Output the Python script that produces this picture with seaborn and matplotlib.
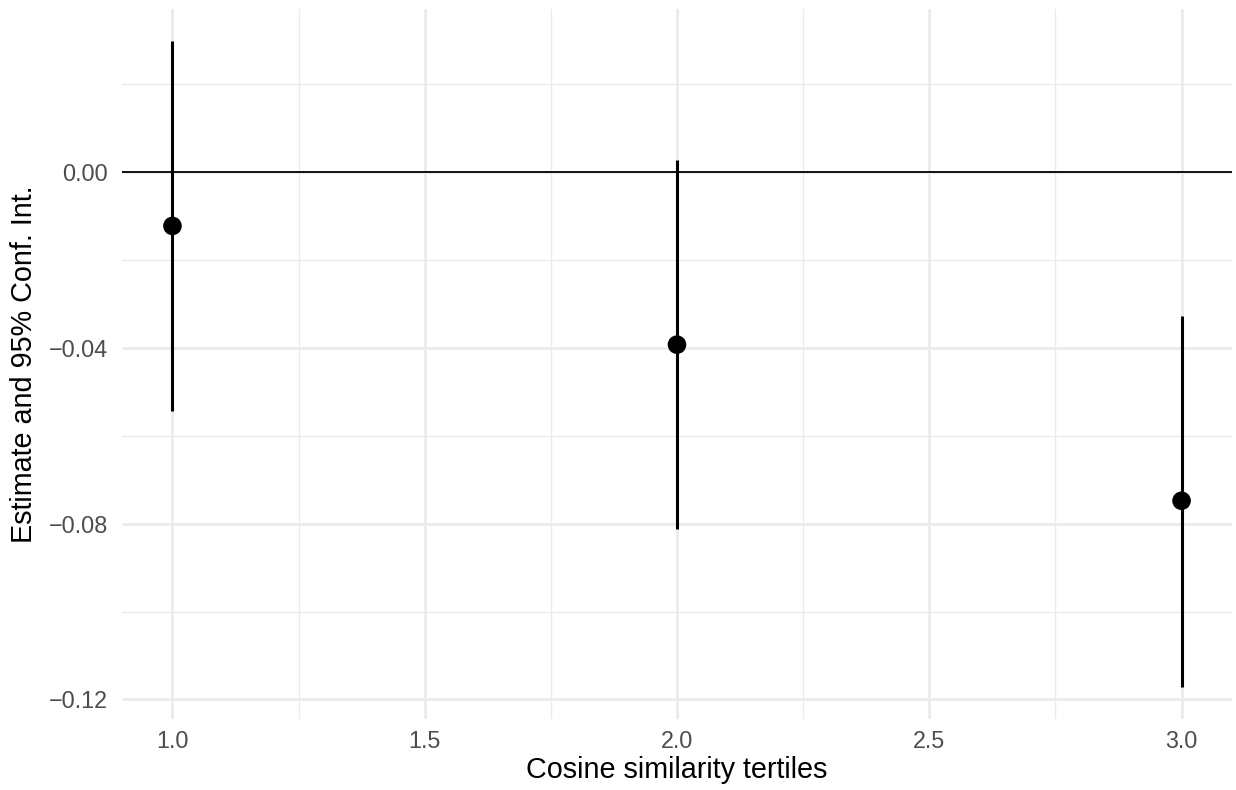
import matplotlib
matplotlib.use("Agg")
import matplotlib.pyplot as plt
import seaborn as sns
import pandas as pd
import numpy as np
from matplotlib.ticker import FixedLocator

# Data
tertile = [1.0, 2.0, 3.0]
estimate = [-0.0123, -0.0393, -0.0748]
conf_low = [-0.0543, -0.0813, -0.1171]
conf_high = [0.0297, 0.0027, -0.0328]

x_ticks = [1.0, 1.5, 2.0, 2.5, 3.0]
x_tick_labels = ["1.0", "1.5", "2.0", "2.5", "3.0"]
x_minor = [1.25, 1.75, 2.25, 2.75]
y_ticks = [0.00, -0.04, -0.08, -0.12]
y_tick_labels = ["0.00", "\u22120.04", "\u22120.08", "\u22120.12"]
y_minor = [0.02, -0.02, -0.06, -0.10]

df = pd.DataFrame({"tertile": tertile, "estimate": estimate,
                   "low": conf_low, "high": conf_high})

sns.set_theme(style="white")
plt.rcParams["font.family"] = ["Liberation Sans", "DejaVu Sans"]

fig = plt.figure(figsize=(12.36, 7.9), dpi=100)
ax = fig.add_axes([122/1236, 71/790, 1110/1236, 710/790])

grid_col = "#EBEBEB"
for v in x_minor:
    ax.axvline(v, color=grid_col, lw=1.0, zorder=0)
for v in y_minor:
    ax.axhline(v, color=grid_col, lw=1.0, zorder=0)
for v in x_ticks:
    ax.axvline(v, color=grid_col, lw=2.0, zorder=0)
for v in y_ticks:
    ax.axhline(v, color=grid_col, lw=2.0, zorder=0)

ax.axhline(0, color="black", lw=1.3, zorder=1)

ax.vlines(df["tertile"], df["low"], df["high"], color="black", lw=2.2, zorder=2)
sns.scatterplot(data=df, x="tertile", y="estimate", ax=ax, color="black",
                s=180, edgecolor="none", zorder=3, legend=False)

lo_all = min(conf_low); hi_all = max(conf_high)
rng = hi_all - lo_all
ax.set_ylim(lo_all - 0.05 * rng, hi_all + 0.05 * rng)
xr = max(tertile) - min(tertile)
ax.set_xlim(min(tertile) - 0.05 * xr, max(tertile) + 0.05 * xr)

ax.xaxis.set_major_locator(FixedLocator(x_ticks))
ax.set_xticklabels(x_tick_labels)
ax.yaxis.set_major_locator(FixedLocator(y_ticks))
ax.set_yticklabels(y_tick_labels)

ax.tick_params(axis="both", length=0, labelsize=16.8, labelcolor="#4D4D4D")
ax.tick_params(axis="x", pad=8)
ax.tick_params(axis="y", pad=10)

for s in ax.spines.values():
    s.set_visible(False)
ax.grid(False)

ax.set_xlabel("Cosine similarity tertiles", fontsize=20.7, color="black", labelpad=2)
ax.set_ylabel("Estimate and 95% Conf. Int.", fontsize=20.7, color="black", labelpad=8)

fig.savefig("out.png", dpi=100, facecolor="white")
